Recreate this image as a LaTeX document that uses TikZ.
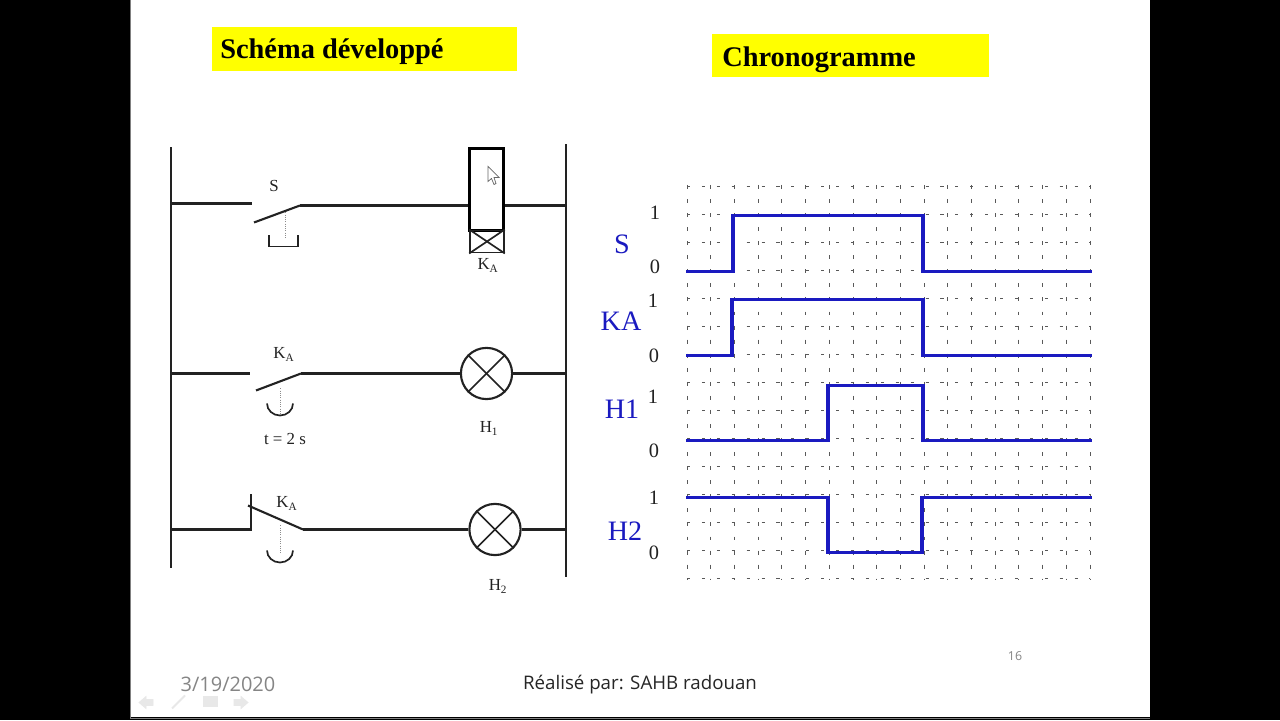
\documentclass[tikz,border=0pt]{standalone}
\usepackage{fontspec}
\setmainfont{Liberation Serif}
\newfontfamily\slidefont{Open Sans}
\usetikzlibrary{positioning, calc}
\definecolor{sigblue}{HTML}{1A1AC0}
\definecolor{wireblack}{HTML}{222222}
\definecolor{titleyellow}{HTML}{FFFF00}
\definecolor{footgray}{HTML}{858585}
\tikzset{
  wire/.style={wireblack, line width=1.5pt},
  thinwire/.style={wireblack, line width=1.2pt},
  lamp/.style={circle, draw=wireblack, line width=1.5pt, minimum size=1.28cm, inner sep=0pt},
  schlabel/.style={font=\fontsize{12}{14}\selectfont, text=wireblack, inner sep=0pt},
  titletext/.style={font=\fontsize{20.2}{24}\bfseries\selectfont, anchor=base west, inner sep=0pt},
  levellabel/.style={font=\fontsize{14.5}{16}\selectfont, text=wireblack, inner sep=0pt},
  signame/.style={font=\fontsize{20}{22}\selectfont, text=sigblue, inner sep=0pt},
  signal/.style={sigblue, line width=2.2pt, line join=miter},
  gridline/.style={black!65, line width=0.55pt},
  navicon/.style={black!9, fill=black!9, line width=0.5pt},
}
\begin{document}
\begin{tikzpicture}[x=0.025cm, y=-0.025cm]
% Slide and black side bars
\fill[black] (0,0) rectangle (1280,720);
\fill[white] (130,0) rectangle (1150,717);
\draw[black!50, line width=0.7pt] (130.5,0) -- (130.5,717.5) -- (1150,717.5);
\useasboundingbox (0,0) rectangle (1280,720);

% Titles
\fill[titleyellow] (212,27) rectangle (517,71);
\fill[titleyellow] (712,34) rectangle (989,77);
\node[titletext] (titleleft) at (220,58) {Schéma développé};
\node[titletext] (titleright) at (722,66) {Chronogramme};

% Rails
\coordinate (railAtop) at (171,147);
\coordinate (railAbot) at (171,568);
\coordinate (railBtop) at (566,144);
\coordinate (railBbot) at (566,577);
\draw[wire] (railAtop) -- (railAbot);
\draw[wire] (railBtop) -- (railBbot);

% Rung 1: push button S and relay coil
\coordinate (sIn) at (252,203);
\coordinate (sBlade) at (254,222);
\coordinate (sOut) at (300,205);
\node[rectangle, draw=black, line width=2pt, minimum width=0.86cm, minimum height=2.03cm, inner sep=0pt] (coil) at (486.5,189) {};
\node[rectangle, draw=wireblack, line width=1.4pt, minimum width=0.84cm, minimum height=0.55cm, inner sep=0pt] (coilbase) at (487,241) {};
\draw[wire] (171,203) -- (sIn);
\draw[wire] (sBlade) -- (sOut);
\draw[wire] (sOut) -- (coil.west |- sOut);
\draw[wire] (coil.east |- sOut) -- (566,205);
\draw[thinwire] (coilbase.north west) -- (coilbase.south east);
\draw[thinwire] (coilbase.north east) -- (coilbase.south west);
\draw[black!45, densely dotted, line width=0.6pt] (285,212) -- (285,238);
\draw[thinwire] (269,235) -- (269,246) -- (298,246) -- (298,235);
\node[schlabel] (labelS) at (274,186) {S};
\node[schlabel] (labelKa) at (488,265) {K\textsubscript{A}};

% Cursor
\draw[black!60, fill=white, line width=0.5pt] (488,166) -- (488,181) -- (491.5,178) -- (494,184) -- (496,183) -- (494,177) -- (499,177) -- cycle;

% Rung 2: delayed contact and lamp H1
\coordinate (kaIn) at (250,373);
\coordinate (kaBlade) at (256,390);
\coordinate (kaOut) at (301,373);
\node[lamp] (lampH1) at (486.5,373) {};
\draw[wire] (171,373) -- (kaIn);
\draw[wire] (kaBlade) -- (kaOut);
\draw[wire] (kaOut) -- (lampH1.west);
\draw[wire] (lampH1.east) -- (566,373);
\draw[thinwire] (lampH1.45) -- (lampH1.225);
\draw[thinwire] (lampH1.135) -- (lampH1.315);
\draw[black!45, densely dotted, line width=0.6pt] (280,388) -- (280,413);
\draw[thinwire] (267,403) arc[start angle=180, end angle=360, x radius=13, y radius=-12];
\node[schlabel] (labelKb) at (284,354) {K\textsubscript{A}};
\node[schlabel] (labelT) at (285,439) {t = 2 s};
\node[schlabel] (labelH1) at (489,428) {H\textsubscript{1}};

% Rung 3: closed contact and lamp H2
\coordinate (kcIn) at (251,529);
\coordinate (kcTop) at (251,494);
\coordinate (kcBlade) at (248,505);
\coordinate (kcOut) at (303,529);
\node[lamp] (lampH2) at (495,529) {};
\draw[wire] (171,529) -- (kcIn) -- (kcTop);
\draw[wire] (kcBlade) -- (kcOut);
\draw[wire] (kcOut) -- (lampH2.west);
\draw[wire] (lampH2.east) -- (566,529);
\draw[thinwire] (lampH2.45) -- (lampH2.225);
\draw[thinwire] (lampH2.135) -- (lampH2.315);
\draw[black!45, densely dotted, line width=0.6pt] (280,525) -- (280,553);
\draw[thinwire] (267,550) arc[start angle=180, end angle=360, x radius=13, y radius=-12];
\node[schlabel] (labelKc) at (287,503) {K\textsubscript{A}};
\node[schlabel] (labelH2) at (498,586) {H\textsubscript{2}};

% Dotted grid of the timing chart
\foreach \i in {0,...,17} {
  \draw[gridline, dash pattern=on 2.8pt off 7.2pt] ({687+23.7*\i},184.5) -- ({687+23.7*\i},580);
}
\foreach \j in {0,...,14} {
  \draw[gridline, dash pattern=on 2.2pt off 8.4pt] (687,{186+28*\j}) -- (1090,{186+28*\j});
}

% Signals
\draw[signal] (686,271) -- (733,271) -- (733,215) -- (923,215) -- (923,271) -- (1092,271);
\draw[signal] (686,355) -- (732,355) -- (732,299) -- (923,299) -- (923,355) -- (1092,355);
\draw[signal] (686,440) -- (828,440) -- (828,385) -- (923,385) -- (923,440) -- (1092,440);
\draw[signal] (686,497) -- (828,497) -- (828,552) -- (922,552) -- (922,497) -- (1092,497);

% Signal names and levels
\node[signame] (nameS) at (622,244) {S};
\node[signame] (nameKA) at (621,321) {KA};
\node[signame] (nameH1) at (622,409) {H1};
\node[signame] (nameH2) at (625,531) {H2};
\foreach \lx/\ly/\lt in {655/212/1, 655/266/0, 653/300/1, 654/355/0, 653/396/1, 654/450/0, 654/497/1, 654/552/0} {
  \node[levellabel] at (\lx,\ly) {\lt};
}

% Footer
\node[font=\slidefont\fontsize{14.2}{16}\selectfont, text=footgray, inner sep=0pt] (footdate) at (228,684) {3/19/2020};
\node[font=\slidefont\fontsize{13.3}{15}\selectfont, text=black!85, inner sep=0pt] (footname) at (640,684) {Réalisé par: SAHB radouan};
\node[font=\slidefont\fontsize{8.8}{10}\selectfont, text=footgray, inner sep=0pt] (footpage) at (1015,656) {16};

% Faint navigation icons
\draw[navicon] (139,702) -- (146,696) -- (146,699) -- (153,699) -- (153,705) -- (146,705) -- (146,708) -- cycle;
\draw[navicon, line width=1.5pt] (172,708) -- (185,695);
\fill[black!9] (203,696) rectangle (218,707);
\draw[navicon] (248,702) -- (241,696) -- (241,699) -- (234,699) -- (234,705) -- (241,705) -- (241,708) -- cycle;
\end{tikzpicture}
\end{document}
